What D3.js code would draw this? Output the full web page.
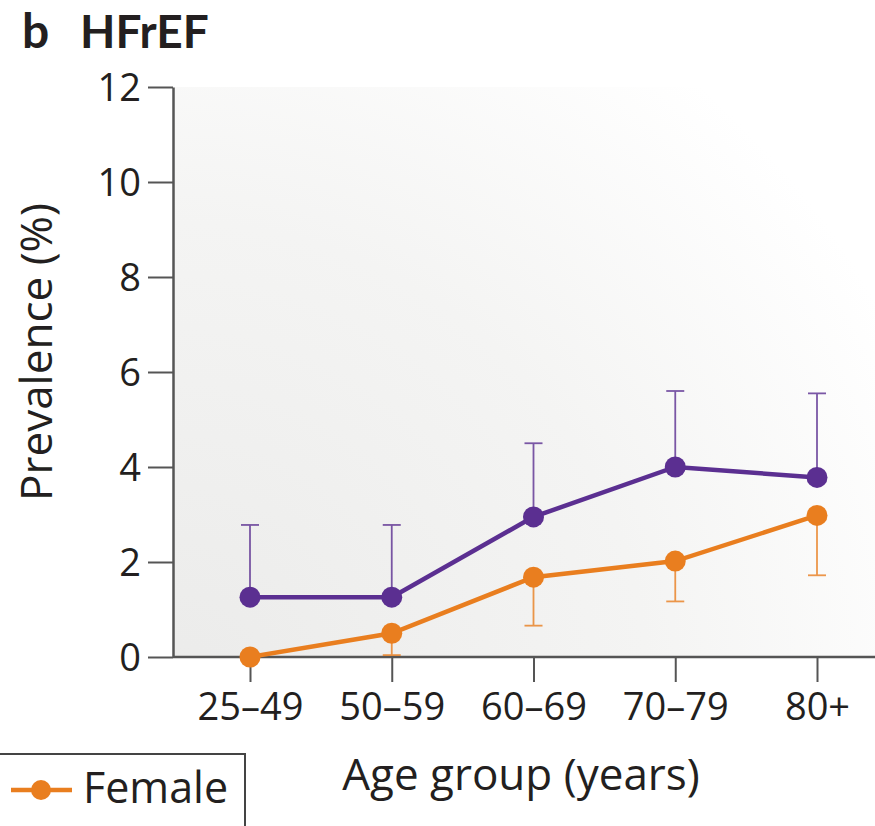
<!DOCTYPE html>
<html>
<head>
<meta charset="utf-8">
<script src="https://cdn.jsdelivr.net/npm/d3@7"></script>
<style>
  html, body { margin: 0; padding: 0; background: #ffffff; }
  svg { display: block; }
</style>
</head>
<body>
<svg id="chart" width="875" height="826"></svg>
<script>
// Age groups and prevalence (%) of HFrEF by sex
const ageGroups = ["25–49", "50–59", "60–69", "70–79", "80+"];
const maleValues = [1.26, 1.26, 2.95, 4.0, 3.78];
const maleUpper = [2.78, 2.78, 4.5, 5.6, 5.55];
const femaleValues = [0.0, 0.5, 1.68, 2.02, 2.98];
const femaleLower = [0.0, 0.04, 0.66, 1.17, 1.72];
const yTicks = [0, 2, 4, 6, 8, 10, 12];

const FONT = "'Open Sans', Lato, sans-serif";
const TITLE_FONT = "Lato, 'Open Sans', sans-serif";
const purple = "#5b2f91";
const orange = "#e97e1f";
const ink = "#231f20";

const svg = d3.select("#chart");

const plotLeft = 173, plotTop = 87, plotBottom = 657, plotRight = 875;

const x = d3.scalePoint().domain(ageGroups).range([250, 817]);
const y = d3.scaleLinear().domain([0, 12]).range([plotBottom, plotTop]);

// plot background: soft grey shading fading towards the top right
const defs = svg.append("defs");
const grad = defs.append("radialGradient")
  .attr("id", "bg").attr("gradientUnits", "userSpaceOnUse")
  .attr("cx", plotLeft).attr("cy", plotBottom + 40).attr("r", 950);
grad.append("stop").attr("offset", "0").attr("stop-color", "#ebebea");
grad.append("stop").attr("offset", "0.5").attr("stop-color", "#f4f4f3");
grad.append("stop").attr("offset", "0.85").attr("stop-color", "#ffffff");
svg.append("rect").attr("x", plotLeft).attr("y", plotTop)
  .attr("width", plotRight - plotLeft + 20).attr("height", plotBottom - plotTop)
  .attr("fill", "url(#bg)");

// y axis
const yAxis = svg.append("g").attr("transform", `translate(${plotLeft},0)`)
  .call(d3.axisLeft(y).tickValues(yTicks).tickSize(25).tickPadding(7).tickSizeOuter(0));
yAxis.select(".domain").attr("stroke", "#555").attr("stroke-width", 2.5);
yAxis.selectAll(".tick line").attr("stroke", "#555").attr("stroke-width", 2);
yAxis.selectAll(".tick text").attr("font-family", FONT).attr("font-size", 38)
  .attr("fill", ink).attr("dy", "0.36em");

// x axis
const xAxis = svg.append("g").attr("transform", `translate(0,${plotBottom})`)
  .call(d3.axisBottom(x).tickSize(25).tickPadding(11).tickSizeOuter(0));
xAxis.select(".domain").attr("d", `M${plotLeft},0H${plotRight + 5}`)
  .attr("stroke", "#555").attr("stroke-width", 2.5);
xAxis.selectAll(".tick line").attr("stroke", "#555").attr("stroke-width", 2);
xAxis.selectAll(".tick text").attr("font-family", FONT).attr("font-size", 38)
  .attr("fill", ink);

// axis titles
svg.append("text").attr("transform", "translate(52,352) rotate(-90)")
  .attr("text-anchor", "middle").attr("font-family", FONT).attr("font-size", 44)
  .attr("fill", ink).text("Prevalence (%)");
svg.append("text").attr("x", 521).attr("y", 790)
  .attr("text-anchor", "middle").attr("font-family", FONT).attr("font-size", 44)
  .attr("fill", ink).text("Age group (years)");

// panel title
svg.append("text").attr("x", 22).attr("y", 48)
  .attr("font-family", TITLE_FONT).attr("font-weight", 700).attr("font-size", 48)
  .attr("fill", ink).text("b");
svg.append("text").attr("x", 80).attr("y", 48)
  .attr("font-family", TITLE_FONT).attr("font-weight", 700).attr("font-size", 46)
  .attr("fill", ink).text("HFrEF");

// error bars
function errorBars(vals, ends, color) {
  const g = svg.append("g").attr("stroke", color).attr("stroke-width", 1.8).attr("opacity", 0.8);
  ageGroups.forEach((a, i) => {
    if (ends[i] === vals[i]) return;
    g.append("line").attr("x1", x(a)).attr("x2", x(a))
      .attr("y1", y(vals[i])).attr("y2", y(ends[i]));
    g.append("line").attr("x1", x(a) - 9).attr("x2", x(a) + 9)
      .attr("y1", y(ends[i])).attr("y2", y(ends[i]));
  });
}
errorBars(maleValues, maleUpper, purple);
errorBars(femaleValues, femaleLower, orange);

// series lines and markers
const line = d3.line().x((d, i) => x(ageGroups[i])).y(d => y(d));
function series(vals, color) {
  svg.append("path").datum(vals).attr("d", line)
    .attr("fill", "none").attr("stroke", color).attr("stroke-width", 4.5);
  svg.append("g").selectAll("circle").data(vals).join("circle")
    .attr("cx", (d, i) => x(ageGroups[i])).attr("cy", d => y(d))
    .attr("r", 10.5).attr("fill", color);
}
series(femaleValues, orange);
series(maleValues, purple);

// legend
const lg = svg.append("g");
lg.append("rect").attr("x", -2).attr("y", 754).attr("width", 247).attr("height", 90)
  .attr("fill", "#ffffff").attr("stroke", "#444").attr("stroke-width", 2);
lg.append("line").attr("x1", 11).attr("x2", 72).attr("y1", 790).attr("y2", 790)
  .attr("stroke", orange).attr("stroke-width", 4.5);
lg.append("circle").attr("cx", 41).attr("cy", 790).attr("r", 10).attr("fill", orange);
lg.append("text").attr("x", 83).attr("y", 803).attr("font-family", FONT)
  .attr("font-size", 43).attr("fill", ink).text("Female");
</script>
</body>
</html>
